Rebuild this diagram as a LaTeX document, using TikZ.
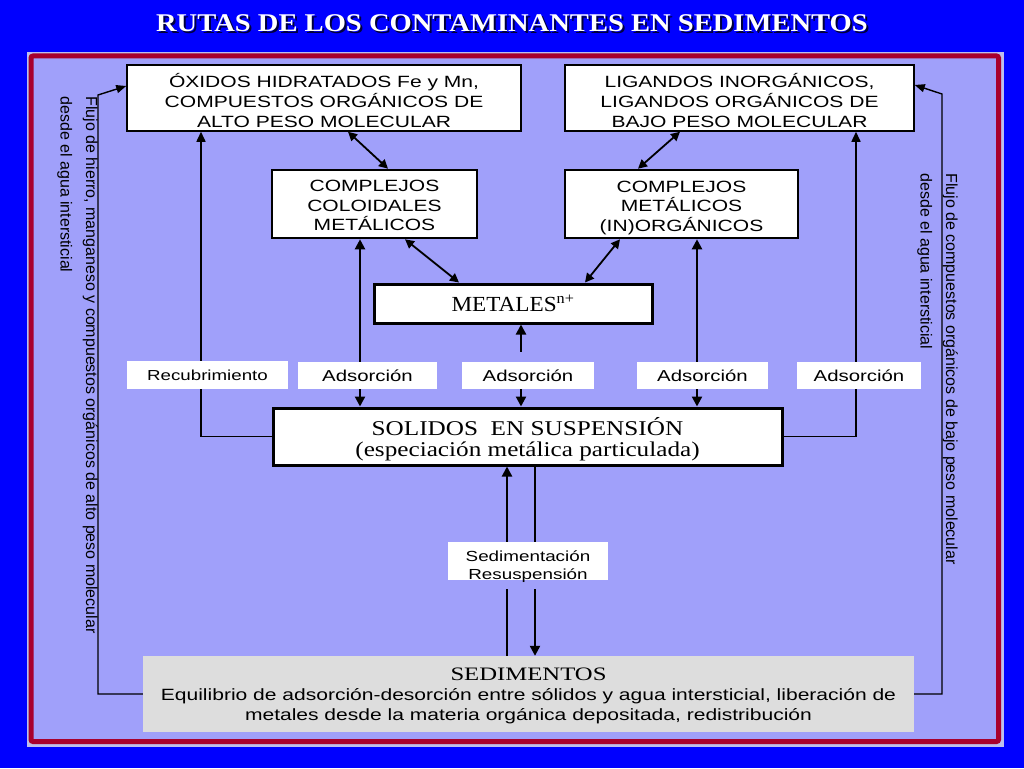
\documentclass[tikz,border=0pt]{standalone}
\usepackage{fontspec}
\setmainfont{Liberation Serif}
\newfontfamily\arialw[FakeStretch=1.29]{Liberation Sans}
\newfontfamily\arialn{Liberation Sans}
\newfontfamily\timesw[FakeStretch=1.2]{Liberation Serif}
\newfontfamily\timesm[FakeStretch=1.08]{Liberation Serif}
\newfontfamily\timess[FakeStretch=1.3]{Liberation Serif}
\newfontfamily\titlefont[FakeStretch=1.12]{Liberation Serif}
\usetikzlibrary{arrows.meta,calc}
\pgfdeclarelayer{back}
\pgfdeclarelayer{lines}
\pgfsetlayers{back,lines,main}
\definecolor{bgblue}{RGB}{0,0,255}
\definecolor{panel}{RGB}{160,160,250}
\definecolor{panelrim}{RGB}{190,190,235}
\definecolor{frame}{RGB}{168,0,45}
\definecolor{sedgray}{RGB}{221,221,221}
\definecolor{shadowc}{RGB}{0,0,60}
\begin{document}
\begin{tikzpicture}[x=1pt,y=-1pt,
  box/.style={draw=black, fill=white, align=center, inner sep=0pt, line width=1.5pt},
  thickbox/.style={box, line width=2.6pt},
  heavybox/.style={box, line width=3pt},
  lab/.style={fill=white, inner sep=0pt, align=center},
  boxtxt/.style={font=\arialw\fontsize{16.3}{20}\selectfont, text height=58.5pt, text depth=0pt},
  adstxt/.style={font=\arialw\fontsize{15.8}{18}\selectfont},
  sidetxt/.style={font=\arialn\fontsize{16}{25.5}\selectfont, align=left, inner sep=0pt, rotate=-90},
  arr/.style={line width=2.2pt, -{Triangle[length=10pt,width=10pt]}},
  dbl/.style={line width=2.2pt, {Triangle[length=10pt,width=10pt]}-{Triangle[length=10pt,width=10pt]}},
  diag/.style={line width=1.8pt, {Triangle[length=9pt,width=9pt]}-{Triangle[length=9pt,width=9pt]}},
  thinarr/.style={line width=1.5pt, -{Triangle[length=10pt,width=9pt]}},
  flow/.style={line width=1.4pt, -{Triangle[length=10pt,width=8pt]}},
  sedl/.style={line width=2pt}
]
\useasboundingbox (0,0) rectangle (1024,768);
\begin{pgfonlayer}{back}
  \fill[bgblue] (0,0) rectangle (1024,768);
  \fill[panelrim] (27,52) rectangle (1004,747);
  \draw[frame, fill=panel, line width=5pt, rounded corners=2pt] (31,56) rectangle (998.5,741.5);
\end{pgfonlayer}

% title
\node[anchor=base, text=shadowc, font=\titlefont\bfseries\fontsize{25.5}{28}\selectfont] (titleshadow) at (514,34) {RUTAS DE LOS CONTAMINANTES EN SEDIMENTOS};
\node[anchor=base, text=white, font=\titlefont\bfseries\fontsize{25.5}{28}\selectfont] (title) at (512,32) {RUTAS DE LOS CONTAMINANTES EN SEDIMENTOS};

% boxes
\node[box, boxtxt, minimum width=394pt, minimum height=66pt] (b1) at (324,98)
  {ÓXIDOS HIDRATADOS Fe y Mn,\\COMPUESTOS ORGÁNICOS DE\\ALTO PESO MOLECULAR};
\node[box, boxtxt, minimum width=349pt, minimum height=66pt] (b2) at (739.5,98)
  {LIGANDOS INORGÁNICOS,\\LIGANDOS ORGÁNICOS DE\\BAJO PESO MOLECULAR};
\node[thickbox, font=\arialw\fontsize{16.3}{19.3}\selectfont, text height=53pt, text depth=0pt, minimum width=205pt, minimum height=68pt] (b3) at (374.5,204)
  {COMPLEJOS\\COLOIDALES\\METÁLICOS};
\node[thickbox, font=\arialw\fontsize{16.3}{19.5}\selectfont, text height=54pt, text depth=0pt, minimum width=233pt, minimum height=68pt] (b4) at (681.5,204)
  {COMPLEJOS\\METÁLICOS\\(IN)ORGÁNICOS};
\node[heavybox, font=\timesm\fontsize{21.5}{22}\selectfont, minimum width=278pt, minimum height=39pt] (met) at (513,303.5)
  {METALES\textsuperscript{n+}};
\node[heavybox, font=\timesw\fontsize{21}{21}\selectfont, text depth=0pt, minimum width=509pt, minimum height=57pt] (sol) at (527.5,436.5)
  {SOLIDOS\ \ EN SUSPENSIÓN\\(especiación metálica particulada)};
\node[fill=sedgray, inner sep=0pt, align=center, text depth=0pt, minimum width=771pt, minimum height=76pt, font=\arialw\fontsize{16.3}{20}\selectfont] (sed) at (528.5,694)
  {{\timess\fontsize{19}{20}\selectfont SEDIMENTOS}\\Equilibrio de adsorción-desorción entre sólidos y agua intersticial, liberación de\\metales desde la materia orgánica depositada, redistribución};

% labels
\node[lab, font=\arialw\fontsize{14.5}{16}\selectfont, minimum width=161pt, minimum height=28pt] (rec) at (207.5,375) {Recubrimiento};
\node[lab, adstxt, minimum width=139pt, minimum height=27pt] (ads1) at (367.5,375.5) {Adsorción};
\node[lab, adstxt, minimum width=132pt, minimum height=27pt] (ads2) at (528,375.5) {Adsorción};
\node[lab, adstxt, minimum width=131pt, minimum height=27pt] (ads3) at (702.5,375.5) {Adsorción};
\node[lab, adstxt, minimum width=124pt, minimum height=27pt] (ads4) at (859,375.5) {Adsorción};
\node[lab, font=\arialw\fontsize{14.6}{17.5}\selectfont, text height=36pt, text depth=0pt, minimum width=160pt, minimum height=38pt] (sedlab) at (528,561) {Sedimentación\\Resuspensión};

% side texts
\node[sidetxt] (tL) at (77.5,365) {Flujo de hierro, manganeso y compuestos orgánicos de alto peso molecular\\desde el agua intersticial};
\node[sidetxt] (tR) at (937.5,369) {Flujo de compuestos orgánicos de bajo peso molecular\\desde el agua intersticial};

% column coordinates
\coordinate (cR) at (201,0);
\coordinate (c1) at (360,0);
\coordinate (c2) at (521,0);
\coordinate (c3) at (697,0);
\coordinate (c4) at (856,0);
\coordinate (cSl) at (507,0);
\coordinate (cSr) at (535,0);
\coordinate (fL) at (98,95);
\coordinate (fR) at (942,94);

\begin{pgfonlayer}{lines}
  % diagonal exchanges
  \draw[diag] ($(b1.south)+(24,0)$) -- ($(b3.north)+(13.5,0)$);
  \draw[diag] ($(b2.south)+(-59.5,0)$) -- ($(b4.north)+(-43.5,0)$);
  \draw[diag] ($(b3.south)+(30.5,0)$) -- ($(met.north)+(-54,0)$);
  \draw[diag] ($(b4.south)+(-61.5,0)$) -- ($(met.north)+(72,0)$);
  % recubrimiento / adsorcion
  \draw[thinarr] (sol.west) -| (b1.south -| cR);
  \draw[dbl] (b3.south -| c1) -- (sol.north -| c1);
  \draw[arr] ($(ads2.north -| c2)+(0,-10)$) -- (met.south -| c2);
  \draw[arr] (ads2.south -| c2) -- (sol.north -| c2);
  \draw[dbl] (b4.south -| c3) -- (sol.north -| c3);
  \draw[thinarr] (sol.east) -| (b2.south -| c4);
  % sedimentacion / resuspension
  \draw[arr] (sedlab.north -| cSl) -- (sol.south -| cSl);
  \draw[sedl] (sed.north -| cSl) -- ($(sedlab.south -| cSl)+(0,9)$);
  \draw[sedl] (sol.south -| cSr) -- (sedlab.north -| cSr);
  \draw[arr] ($(sedlab.south -| cSr)+(0,9)$) -- (sed.north -| cSr);
  % side flows
  \draw[flow] (sed.west) -| (fL) -- ($(b1.west)+(0,-12)$);
  \draw[flow] (sed.east) -| (fR) -- ($(b2.east)+(0,-13)$);
\end{pgfonlayer}
\end{tikzpicture}
\end{document}
